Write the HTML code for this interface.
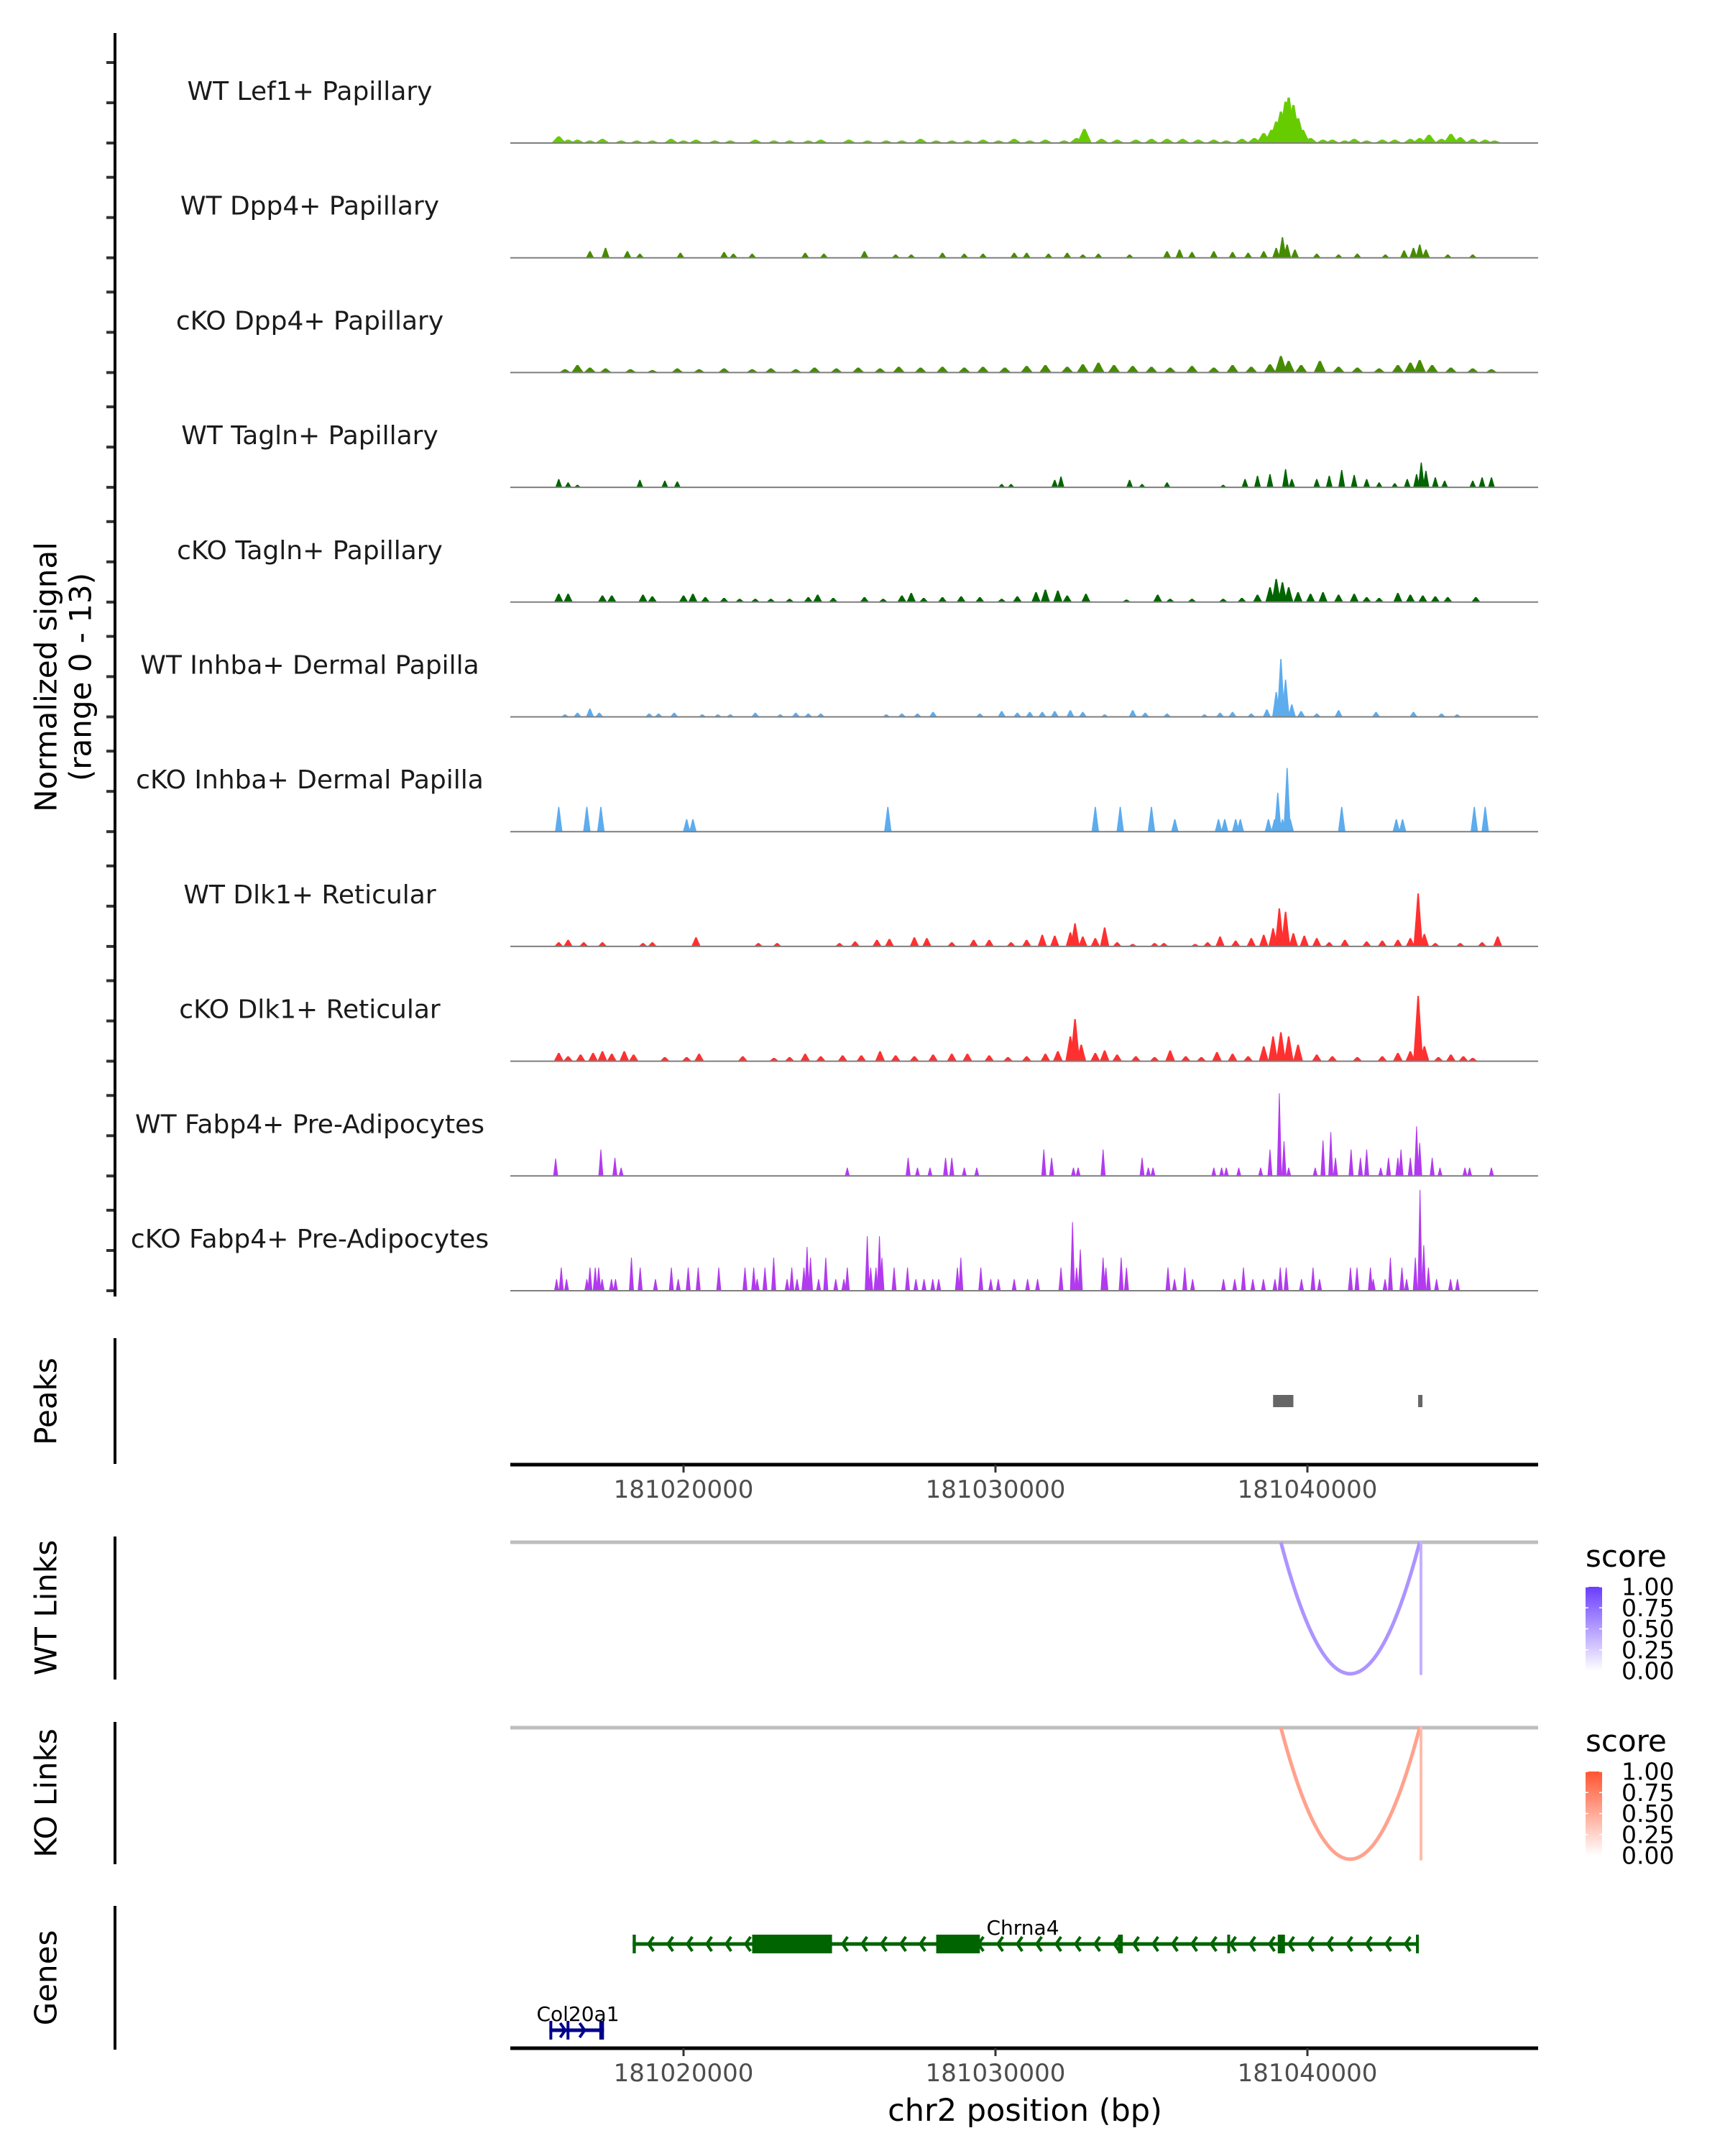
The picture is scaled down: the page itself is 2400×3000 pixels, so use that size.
<!DOCTYPE html>
<html><head><meta charset="utf-8">
<style>
html,body{margin:0;padding:0;background:#fff;}
svg{display:block;font-family:"DejaVu Sans","Liberation Sans",sans-serif;}
</style></head>
<body>
<svg id="chart" width="2400" height="3000" viewBox="0 0 2400 3000" xmlns="http://www.w3.org/2000/svg">
<g id="tracks"></g>
<g id="axes"></g>
<g id="peaks"></g>
<g id="links"></g>
<g id="genes"></g>
</svg>
<script>
// ---- data (positions in kb offset from 181,000,000; heights in normalized signal units) ----
const trackNames = ["WT Lef1+ Papillary","WT Dpp4+ Papillary","cKO Dpp4+ Papillary","WT Tagln+ Papillary","cKO Tagln+ Papillary","WT Inhba+ Dermal Papilla","cKO Inhba+ Dermal Papilla","WT Dlk1+ Reticular","cKO Dlk1+ Reticular","WT Fabp4+ Pre-Adipocytes","cKO Fabp4+ Pre-Adipocytes"];
const trackColors = ["#66CC00","#458B00","#458B00","#006400","#006400","#5CACEE","#5CACEE","#FF3030","#FF3030","#B23AEE","#B23AEE"];
const lef1 = [[16.0,0.8],[16.3,0.4],[16.6,0.4],[17.0,0.3],[17.4,0.5],[18.0,0.3],[18.5,0.3],[19.0,0.3],[19.6,0.5],[20.0,0.3],[20.4,0.4],[21.0,0.3],[21.5,0.3],[22.3,0.4],[22.9,0.3],[23.4,0.3],[24.0,0.3],[24.4,0.4],[25.3,0.4],[25.9,0.3],[26.5,0.3],[27.0,0.3],[27.6,0.5],[28.1,0.3],[28.6,0.3],[29.1,0.3],[29.6,0.4],[30.1,0.3],[30.6,0.5],[31.1,0.3],[31.6,0.4],[32.2,0.3],[32.6,0.6],[32.85,1.7],[33.4,0.5],[33.9,0.4],[34.5,0.4],[35.0,0.5],[35.5,0.5],[36.0,0.5],[36.5,0.4],[37.0,0.4],[37.4,0.3],[37.9,0.5],[38.3,0.6],[38.6,1.2],[38.85,1.6],[39.0,2.6],[39.15,3.8],[39.3,5.0],[39.4,5.5],[39.55,4.6],[39.7,3.0],[39.85,1.6],[40.1,0.6],[40.5,0.4],[40.8,0.4],[41.2,0.3],[41.5,0.5],[41.9,0.3],[42.4,0.4],[42.8,0.4],[43.3,0.5],[43.6,0.6],[43.9,1.0],[44.3,0.5],[44.6,1.1],[44.9,0.7],[45.3,0.5],[45.7,0.4],[46.0,0.3]];
const wtDpp4 = [[17.0,0.8],[17.5,1.2],[18.2,0.8],[18.6,0.5],[19.9,0.6],[21.3,0.7],[21.6,0.5],[22.2,0.5],[23.9,0.6],[24.5,0.5],[25.8,0.8],[26.8,0.4],[27.3,0.4],[28.3,0.6],[29.0,0.5],[29.6,0.5],[30.6,0.6],[31.0,0.6],[31.7,0.5],[32.3,0.6],[32.8,0.4],[33.3,0.5],[34.3,0.4],[35.5,0.8],[35.9,1.0],[36.3,0.7],[37.0,0.8],[37.6,0.7],[38.1,0.6],[38.6,0.8],[39.0,1.2],[39.2,2.5],[39.35,1.6],[39.6,1.0],[40.3,0.5],[41.0,0.4],[41.6,0.5],[42.5,0.4],[43.1,0.9],[43.4,1.2],[43.6,1.6],[43.8,1.0],[44.5,0.4],[45.3,0.4]];
const koDpp4 = [[16.2,0.4],[16.6,0.9],[17.0,0.6],[17.5,0.5],[18.3,0.4],[19.0,0.3],[19.8,0.5],[20.5,0.4],[21.3,0.5],[22.2,0.4],[22.8,0.5],[23.6,0.4],[24.2,0.6],[24.9,0.5],[25.6,0.6],[26.3,0.5],[26.9,0.7],[27.6,0.6],[28.3,0.7],[29.0,0.6],[29.6,0.7],[30.3,0.6],[31.0,0.8],[31.6,0.9],[32.3,0.7],[32.8,1.0],[33.3,1.2],[33.8,0.9],[34.4,0.8],[35.0,0.7],[35.6,0.6],[36.3,0.8],[37.0,0.6],[37.6,0.9],[38.2,0.7],[38.8,1.0],[39.15,2.0],[39.4,1.4],[39.8,0.9],[40.4,1.4],[41.0,0.7],[41.6,0.6],[42.3,0.5],[42.9,0.9],[43.3,1.2],[43.6,1.5],[44.0,0.9],[44.6,0.6],[45.3,0.5],[45.9,0.4]];
const wtTagln = [[16.0,1.0],[16.3,0.6],[16.6,0.3],[18.6,0.9],[19.4,0.8],[19.8,0.7],[30.2,0.4],[30.5,0.4],[31.9,0.9],[32.1,1.3],[34.3,0.9],[34.7,0.4],[35.5,0.6],[37.3,0.3],[38.0,1.0],[38.4,1.4],[38.8,1.6],[39.3,2.2],[39.5,1.0],[40.3,1.0],[40.7,1.4],[41.1,2.1],[41.5,1.5],[41.9,1.0],[42.3,0.6],[42.8,0.5],[43.2,1.0],[43.5,1.6],[43.65,3.0],[43.8,2.0],[44.1,1.2],[44.4,0.8],[45.3,0.8],[45.6,1.2],[45.9,1.2]];
const koTagln = [[16.0,1.0],[16.3,1.0],[17.4,0.8],[17.7,0.8],[18.7,0.9],[19.0,0.7],[20.0,0.8],[20.3,1.0],[20.7,0.6],[21.3,0.5],[21.8,0.4],[22.3,0.4],[22.8,0.4],[23.4,0.4],[24.0,0.6],[24.3,0.9],[24.8,0.5],[25.8,0.6],[26.4,0.4],[27.0,0.8],[27.3,1.1],[27.7,0.5],[28.3,0.6],[28.9,0.7],[29.5,0.6],[30.2,0.4],[30.7,0.7],[31.3,1.2],[31.6,1.5],[32.0,1.4],[32.3,0.8],[32.9,1.0],[34.2,0.3],[35.2,0.9],[35.6,0.4],[36.3,0.4],[37.3,0.4],[37.9,0.5],[38.4,0.9],[38.8,1.8],[39.0,2.8],[39.2,2.4],[39.4,1.8],[39.7,1.2],[40.1,1.0],[40.5,1.2],[41.0,0.9],[41.5,1.0],[41.9,0.6],[42.3,0.5],[42.9,1.1],[43.3,0.9],[43.7,0.8],[44.1,0.7],[44.5,0.6],[45.4,0.6]];
const wtInhba = [[16.2,0.3],[16.6,0.5],[17.0,1.0],[17.3,0.5],[18.9,0.4],[19.2,0.4],[19.7,0.5],[20.6,0.3],[21.1,0.3],[21.5,0.3],[22.3,0.5],[23.1,0.3],[23.6,0.5],[24.0,0.4],[24.4,0.4],[26.5,0.3],[27.0,0.4],[27.5,0.4],[28.0,0.6],[29.5,0.4],[30.2,0.7],[30.7,0.5],[31.1,0.6],[31.5,0.6],[31.9,0.7],[32.4,0.8],[32.8,0.6],[33.5,0.3],[34.4,0.8],[34.8,0.5],[35.5,0.4],[36.7,0.3],[37.2,0.5],[37.6,0.6],[38.2,0.4],[38.7,0.9],[39.0,3.0],[39.15,7.0],[39.3,4.5],[39.5,1.5],[39.8,0.7],[40.3,0.4],[41.0,0.8],[42.2,0.6],[43.4,0.6],[44.3,0.4],[44.8,0.3]];
const koInhba = [[16.0,3.0],[16.9,3.0],[17.35,3.0],[20.1,1.5],[20.3,1.5],[26.55,3.0],[33.2,3.0],[34.0,3.0],[35.0,3.0],[35.75,1.5],[37.15,1.5],[37.35,1.5],[37.7,1.5],[37.85,1.5],[38.75,1.5],[38.95,1.5],[39.05,4.7],[39.2,1.5],[39.35,7.7],[39.45,1.5],[41.1,3.0],[42.85,1.5],[43.05,1.5],[45.35,3.0],[45.7,3.0]];
const wtDlk1 = [[16.0,0.5],[16.3,0.8],[16.8,0.5],[17.4,0.5],[18.7,0.4],[19.0,0.5],[20.4,1.1],[22.4,0.4],[23.0,0.4],[25.0,0.4],[25.5,0.6],[26.2,0.8],[26.6,0.9],[27.4,1.1],[27.8,1.0],[28.6,0.5],[29.3,0.8],[29.8,0.8],[30.5,0.5],[31.0,0.8],[31.5,1.4],[31.9,1.3],[32.4,1.7],[32.55,2.8],[32.8,1.2],[33.2,1.0],[33.5,2.3],[33.9,0.5],[34.4,0.3],[35.1,0.4],[35.4,0.4],[36.4,0.3],[36.8,0.5],[37.2,1.2],[37.7,0.7],[38.2,1.0],[38.6,1.4],[38.9,2.2],[39.1,4.6],[39.3,4.2],[39.55,1.6],[39.9,1.3],[40.3,1.0],[40.7,0.5],[41.2,0.8],[41.9,0.6],[42.4,0.7],[42.9,0.8],[43.3,1.0],[43.55,6.4],[43.75,1.5],[44.1,0.4],[44.9,0.4],[45.6,0.5],[46.1,1.2]];
const koDlk1 = [[16.0,1.0],[16.3,0.6],[16.7,0.8],[17.1,1.0],[17.4,1.2],[17.7,0.9],[18.1,1.2],[18.4,0.8],[19.4,0.5],[20.1,0.5],[20.5,0.9],[21.9,0.6],[22.9,0.4],[23.4,0.5],[23.9,0.9],[24.4,0.6],[25.1,0.7],[25.7,0.7],[26.3,1.2],[26.8,0.7],[27.4,0.6],[28.0,0.8],[28.6,0.9],[29.1,0.9],[29.8,0.7],[30.4,0.5],[31.0,0.6],[31.6,0.9],[32.0,1.2],[32.4,3.0],[32.55,5.1],[32.75,2.0],[33.2,1.0],[33.5,1.3],[33.9,0.8],[34.5,0.6],[35.1,0.5],[35.6,1.3],[36.1,0.6],[36.6,0.5],[37.1,1.1],[37.6,0.9],[38.1,0.6],[38.6,1.8],[38.9,3.0],[39.15,3.5],[39.4,3.0],[39.7,2.0],[40.3,0.8],[40.8,0.6],[41.6,0.5],[42.4,0.6],[42.9,1.0],[43.3,1.2],[43.55,7.9],[43.75,1.8],[44.2,0.5],[44.6,0.8],[45.0,0.6],[45.3,0.4]];
const wtFabp4 = [[15.9,2.1],[17.35,3.2],[17.8,2.2],[18.0,1.0],[25.25,1.0],[27.2,2.2],[27.5,1.0],[27.9,1.0],[28.4,2.2],[28.6,2.2],[29.0,1.0],[29.4,1.0],[31.55,3.2],[31.8,2.2],[32.5,1.0],[32.65,1.0],[33.45,3.2],[34.7,2.2],[34.9,1.0],[35.05,1.0],[37.0,1.0],[37.25,1.0],[37.4,1.0],[37.8,1.0],[38.5,1.0],[38.8,3.2],[39.1,10.0],[39.25,4.2],[39.4,1.0],[40.25,1.0],[40.5,4.3],[40.75,5.3],[40.9,2.2],[41.4,3.2],[41.7,2.2],[41.9,3.2],[42.35,1.0],[42.6,2.2],[42.9,2.2],[43.0,3.2],[43.3,2.2],[43.5,6.0],[43.6,4.0],[44.0,2.2],[44.25,1.0],[45.05,1.0],[45.2,1.0],[45.9,1.0]];
const koFabp4 = [[15.93,1.4],[16.08,2.8],[16.25,1.4],[16.9,1.4],[17.0,2.8],[17.17,2.8],[17.28,2.8],[17.39,1.4],[17.69,1.4],[17.82,1.4],[18.33,4.0],[18.61,2.8],[19.1,1.4],[19.61,2.8],[19.83,1.4],[20.15,2.8],[20.47,2.8],[21.13,2.8],[21.97,2.8],[22.25,2.8],[22.36,1.4],[22.61,2.8],[22.89,4.0],[23.32,1.4],[23.47,2.8],[23.64,1.4],[23.86,2.8],[23.96,5.3],[24.07,4.0],[24.33,1.4],[24.56,4.0],[24.88,1.4],[25.14,1.4],[25.25,2.8],[25.89,6.6],[26.0,2.8],[26.17,2.8],[26.28,6.6],[26.36,4.0],[26.75,2.8],[27.18,2.8],[27.45,1.4],[27.71,1.4],[27.99,1.4],[28.18,1.4],[28.78,2.8],[28.89,4.0],[29.53,2.8],[29.85,1.4],[30.09,1.4],[30.6,1.4],[31.03,1.4],[31.35,1.4],[32.1,2.8],[32.47,8.3],[32.6,2.8],[32.72,5.0],[33.45,4.0],[33.54,2.8],[34.03,4.0],[34.2,2.8],[35.53,2.8],[35.74,1.4],[36.07,2.8],[36.32,1.4],[37.31,1.4],[37.67,1.4],[37.95,2.8],[38.25,1.4],[38.59,1.4],[38.96,1.4],[39.13,2.8],[39.32,2.8],[39.81,1.4],[40.18,2.8],[40.39,1.4],[41.38,2.8],[41.59,2.8],[42.02,2.8],[42.11,1.4],[42.49,1.4],[42.66,4.0],[43.03,2.8],[43.18,1.4],[43.46,4.0],[43.61,12.2],[43.73,5.5],[43.88,2.8],[44.14,1.4],[44.59,1.4],[44.81,1.4]];
const trackData = [lef1, wtDpp4, koDpp4, wtTagln, koTagln, wtInhba, koInhba, wtDlk1, koDlk1, wtFabp4, koFabp4];
const trackWidths = [0.24,0.13,0.2,0.11,0.15,0.13,0.12,0.15,0.16,0.08,0.08];
const xTicks = [20, 30, 40];
const xTickLabels = ["181020000","181030000","181040000"];
const peakStarts = [38.9, 43.55];
const peakEnds = [39.55, 43.68];
const linkStarts = [39.15, 43.62];
const linkEnds = [43.6, 43.64];
const wtScores = [0.3, 0.15];
const koScores = [0.3, 0.15];
const legendTicks = [1.00, 0.75, 0.50, 0.25, 0.00];
const chrnaExonStarts = [18.37, 22.2, 28.1, 33.93, 33.99, 37.43, 39.05, 43.48];
const chrnaExonEnds = [18.47, 24.76, 29.5, 33.98, 34.05, 37.48, 39.28, 43.56];
const colExonStarts = [15.7, 16.25, 17.3];
const colExonEnds = [15.72, 16.3, 17.45];

// ---- scales ----
const X0 = 951, PXPERKB = 43.4;
function xs(kb){ return X0 + (kb - 20) * PXPERKB; }
const PXPERUNIT = 11.5;
function ys(i, v){ return trackBase(i) - v * PXPERUNIT; }
function trackBase(i){ return 199 + 159.7 * i; }
const NS = "http://www.w3.org/2000/svg";
function mk(tag, attrs, parent){ const e = document.createElementNS(NS, tag); for (const k in attrs) e.setAttribute(k, attrs[k]); parent.appendChild(e); return e; }
const PL = 710, PR = 2140;

// ---- coverage tracks ----
const gT = document.getElementById('tracks');
trackData.forEach((peaks, i) => {
  const g = mk('g', {}, gT);
  
  
  const base = trackBase(i);
  const w = trackWidths[i];
  peaks.forEach(p => {
    const x = xs(p[0]), y = ys(i, p[1]), hw = w * PXPERKB;
    const poly = mk('polygon', {points: `${x-hw},${base} ${x-hw*0.6},${base-(base-y)*0.45} ${x-hw*0.15},${y} ${x+hw*0.15},${y} ${x+hw*0.6},${base-(base-y)*0.45} ${x+hw},${base}`, fill: trackColors[i]}, g);
    
    
  });
  const bl = mk('line', {x1: PL, x2: PR, y1: base, y2: base, stroke: '#7f7f7f', 'stroke-width': 2}, g);
  
  
  const t = mk('text', {x: 431, y: base - 60, 'text-anchor': 'middle', 'font-size': 36, fill: '#1a1a1a'}, g);
  t.textContent = trackNames[i];
  
  
  [0, 56, 112].forEach(d => {
    const tk = mk('line', {x1: 148, x2: 160, y1: base - d, y2: base - d, stroke: '#333', 'stroke-width': 4}, g);
    
    
  });
});

// ---- axes and titles ----
const gA = document.getElementById('axes');
function vline(x, y1, y2, name){ const l = mk('line', {x1: x, x2: x, y1: y1, y2: y2, stroke: '#000', 'stroke-width': 4}, gA);   }
vline(160, 46, 1804, 'coverage-y-axis');
vline(160, 1862, 2037, 'peaks-y-axis');
vline(160, 2138, 2337, 'wt-links-y-axis');
vline(160, 2396, 2594, 'ko-links-y-axis');
vline(160, 2652, 2852, 'genes-y-axis');
function rtext(x, y, s, name, size){ const t = mk('text', {x: x, y: y, transform: `rotate(-90 ${x} ${y})`, 'text-anchor': 'middle', 'dominant-baseline': 'central', 'font-size': size, fill: '#000'}, gA); t.textContent = s;   }
rtext(64, 942, 'Normalized signal', 'y-axis-title', 42);
rtext(112, 942, '(range 0 - 13)', 'y-axis-subtitle', 42);
rtext(64, 1950, 'Peaks', 'peaks-axis-title', 42);
rtext(64, 2237, 'WT Links', 'wt-links-axis-title', 42);
rtext(64, 2495, 'KO Links', 'ko-links-axis-title', 42);
rtext(64, 2752, 'Genes', 'genes-axis-title', 42);
function xAxis(y, name){
  const l = mk('line', {x1: PL, x2: PR, y1: y, y2: y, stroke: '#000', 'stroke-width': 5}, gA);
  
  
  xTicks.forEach((v, k) => {
    const tk = mk('line', {x1: xs(v), x2: xs(v), y1: y, y2: y + 11, stroke: '#333', 'stroke-width': 3}, gA);
    
    
    const t = mk('text', {x: xs(v), y: y + 46, 'text-anchor': 'middle', 'font-size': 34, fill: '#4d4d4d'}, gA);
    t.textContent = xTickLabels[k];
    
    
  });
}
xAxis(2038, 'peaks-x-axis');
xAxis(2850, 'genes-x-axis');
const xt = mk('text', {x: 1426, y: 2951, 'text-anchor': 'middle', 'font-size': 43, fill: '#000'}, gA);
xt.textContent = 'chr2 position (bp)';



// ---- peaks ----
const gP = document.getElementById('peaks');
peakStarts.forEach((s, k) => {
  const r = mk('rect', {x: xs(s), y: 1941, width: Math.max(xs(peakEnds[k]) - xs(s), 6), height: 17, fill: '#666'}, gP);
  
  
});

// ---- links ----
const gL = document.getElementById('links');
function linkPanel(top, bottom, scores, hi, name, legY){
  const g = mk('g', {}, gL);
  
  
  const gl = mk('line', {x1: PL, x2: PR, y1: top, y2: top, stroke: '#bebebe', 'stroke-width': 5}, g);
  
  
  linkStarts.forEach((s, k) => {
    const x1 = xs(s), x2 = xs(linkEnds[k]);
    const c = mix(hi, 0.25 + scores[k]);
    let el;
    if (x2 - x1 < 5) {
      el = mk('line', {x1: x2, x2: x2, y1: top, y2: bottom, stroke: c, 'stroke-width': 4, 'stroke-linecap': 'round'}, g);
    } else {
      const cy = 2 * bottom - top;
      el = mk('path', {d: `M${x1},${top} Q${(x1+x2)/2},${cy} ${x2},${top}`, fill: 'none', stroke: c, 'stroke-width': 5}, g);
    }
    
    
  });
  const lt = mk('text', {x: 2206, y: legY, 'font-size': 42, fill: '#000'}, g);
  lt.textContent = 'score';
  
  
  const gid = name + '-grad';
  const defs = mk('defs', {}, g);
  const lg = mk('linearGradient', {id: gid, x1: 0, y1: 1, x2: 0, y2: 0}, defs);
  mk('stop', {offset: '0', 'stop-color': '#ffffff'}, lg);
  mk('stop', {offset: '1', 'stop-color': hi}, lg);
  const by = legY + 28, bh = 117;
  const bar = mk('rect', {x: 2206, y: by, width: 23, height: bh, fill: `url(#${gid})`}, g);
  
  
  legendTicks.forEach(v => {
    const yy = by + (1 - v) * bh;
    mk('line', {x1: 2206, x2: 2210, y1: yy, y2: yy, stroke: '#fff', 'stroke-width': 1.5}, g);
    mk('line', {x1: 2225, x2: 2229, y1: yy, y2: yy, stroke: '#fff', 'stroke-width': 1.5}, g);
    const t = mk('text', {x: 2256, y: yy, 'dominant-baseline': 'central', 'font-size': 33, fill: '#000'}, g);
    t.textContent = v.toFixed(2);
    
    
  });
}
function mix(hex, a){
  const r = parseInt(hex.slice(1,3),16), gg = parseInt(hex.slice(3,5),16), b = parseInt(hex.slice(5,7),16);
  const f = c => Math.round(255 + (c - 255) * a);
  return `rgb(${f(r)},${f(gg)},${f(b)})`;
}
linkPanel(2146, 2329, wtScores, '#6A3DFF', 'wt-links', 2180);
linkPanel(2404, 2587, koScores, '#FF5530', 'ko-links', 2437);

// ---- genes ----
const gG = document.getElementById('genes');
function gene(name, starts, ends, y, color, dir, lx, ly, blocks){
  const g = mk('g', {}, gG);
  
  
  const xa = xs(starts[0]), xb = xs(ends[ends.length-1]);
  mk('line', {x1: xa, x2: xb, y1: y, y2: y, stroke: color, 'stroke-width': 5}, g);
  for (let x = xa + 22; x < xb - 8; x += 27) {
    const d = dir < 0 ? `M${x+7},${y-10} L${x},${y} L${x+7},${y+10}` : `M${x-7},${y-10} L${x},${y} L${x-7},${y+10}`;
    mk('path', {d: d, fill: 'none', stroke: color, 'stroke-width': 4}, g);
  }
  starts.forEach((s, k) => {
    const x1 = xs(s), x2 = xs(ends[k]);
    const big = blocks.indexOf(k) >= 0;
    const r = mk('rect', {x: x1, y: y - 13, width: Math.max(x2 - x1, 4), height: 26, fill: color}, g);
    
    
  });
  const t = mk('text', {x: lx, y: ly, 'text-anchor': 'middle', 'font-size': 28, fill: '#000'}, g);
  t.textContent = name;
  
  
}
gene('Chrna4', chrnaExonStarts, chrnaExonEnds, 2705, '#006400', -1, 1423, 2692, [1, 2]);
gene('Col20a1', colExonStarts, colExonEnds, 2825, '#00008B', 1, 804, 2812, []);
</script>
</body></html>
